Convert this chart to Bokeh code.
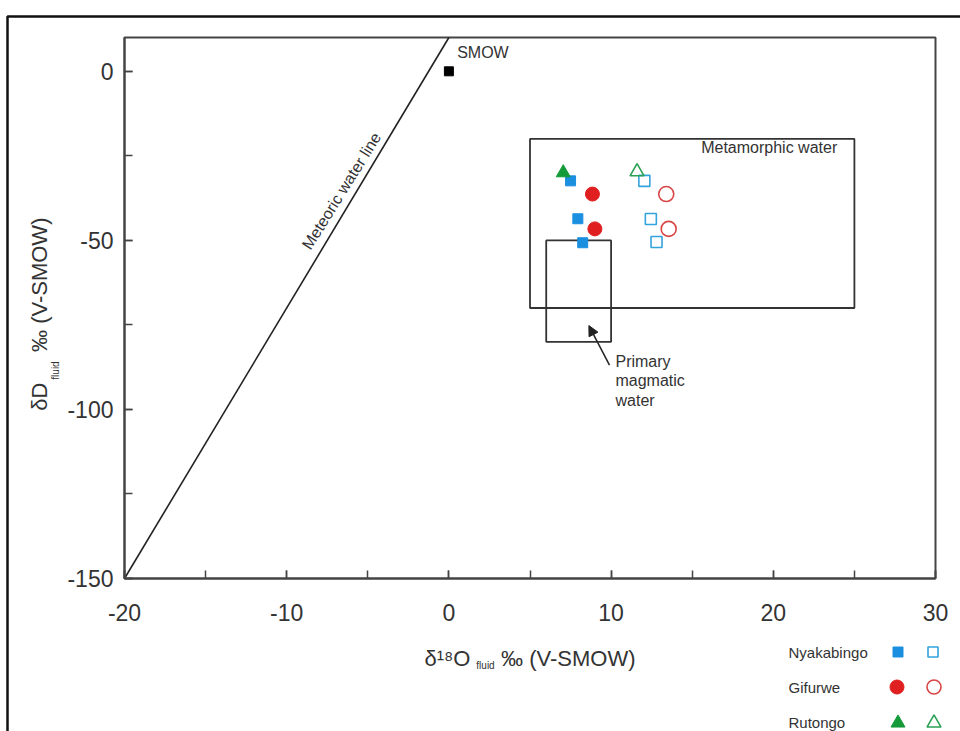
from bokeh.plotting import figure
from bokeh.models import (Label, Legend, LegendItem, BoxAnnotation, PrintfTickFormatter,
                          SingleIntervalTicker, Arrow, NormalHead, Range1d)
from bokeh.embed import file_html
from bokeh.resources import INLINE

FONT = "Liberation Sans"
TXT = "#333333"

# ---------------- data ----------------
x_range = (-20, 30)
y_range = (-150, 10)

nyak_closed_x = [7.5, 7.95, 8.25]
nyak_closed_y = [-32.4, -43.6, -50.7]
nyak_open_x = [12.05, 12.45, 12.8]
nyak_open_y = [-32.4, -43.7, -50.5]

gif_closed_x = [8.85, 9.0]
gif_closed_y = [-36.3, -46.6]
gif_open_x = [13.4, 13.55]
gif_open_y = [-36.3, -46.6]

rut_closed_x = [7.05]
rut_closed_y = [-30.0]
rut_open_x = [11.6]
rut_open_y = [-29.7]

smow_x = [0]
smow_y = [0]

mwl_x = [-20, 0]
mwl_y = [-150, 10]

meta_left, meta_right, meta_bottom, meta_top = [5], [25], [-70], [-20]
mag_left, mag_right, mag_bottom, mag_top = [6], [10], [-80], [-50]

legend_names = ["Nyakabingo", "Gifurwe", "Rutongo"]

# ---------------- layout (pixels) ----------------
W, H = 960, 731
PL, PR, PT, PB = 124, 935, 37, 578     # plot box edges in canvas px
sx = (PR - PL) / (x_range[1] - x_range[0])
sy = (PB - PT) / (y_range[1] - y_range[0])
xr = Range1d(x_range[0] - PL / sx, x_range[1] + (W - PR) / sx)
yr = Range1d(y_range[0] - (H - PB) / sy, y_range[1] + PT / sy)

def dx(px):
    return x_range[0] + (px - PL) / sx

def dy(py):
    return y_range[1] - (py - PT) / sy

p = figure(width=W, height=H, output_backend="svg", toolbar_location=None,
           x_range=xr, y_range=yr, min_border=0)
p.grid.visible = False
p.outline_line_color = None
p.background_fill_color = "white"
p.border_fill_color = "white"

for ax, interval, loc, bnd in ((p.xaxis[0], 10, y_range[0], x_range),
                               (p.yaxis[0], 50, x_range[0], y_range)):
    ax.fixed_location = loc
    ax.bounds = bnd
    ax.ticker = SingleIntervalTicker(interval=interval, num_minor_ticks=2)
    ax.formatter = PrintfTickFormatter(format="%d")
    ax.axis_line_color = "#444444"
    ax.axis_line_width = 2
    ax.major_tick_in = 8
    ax.major_tick_out = 0
    ax.minor_tick_in = 8
    ax.minor_tick_out = 0
    ax.major_tick_line_color = "#444444"
    ax.minor_tick_line_color = "#444444"
    ax.major_tick_line_width = 1.5
    ax.minor_tick_line_width = 1.5
    ax.major_label_text_font = FONT
    ax.major_label_text_font_size = "23px"
    ax.major_label_text_color = TXT
    ax.axis_label_text_font = FONT
    ax.axis_label_text_font_size = "22px"
    ax.axis_label_text_font_style = "normal"
    ax.axis_label_text_color = TXT

NB = "\u00a0"
p.xaxis.major_label_standoff = 25
p.yaxis.major_label_standoff = 11
p.xaxis.axis_label = "δ¹⁸O" + NB * 5 + "‰ (V-SMOW)"
p.yaxis.axis_label = "δD" + NB * 5 + "‰ (V-SMOW)" + NB * 2
p.xaxis.axis_label_standoff = 22
p.yaxis.axis_label_standoff = 12

# plot box
p.quad(left=[x_range[0]], right=[x_range[1]], bottom=[y_range[0]], top=[y_range[1]],
       fill_color=None, line_color="#444444", line_width=2)

# subscripts "fluid"
p.add_layout(Label(x=dx(485), y=dy(665), text="fluid", text_font=FONT, text_font_size="10px",
                   text_color=TXT, text_align="center", text_baseline="middle"))
p.add_layout(Label(x=dx(55), y=dy(370), text="fluid", text_font=FONT, text_font_size="10px",
                   text_color=TXT, text_align="center", text_baseline="middle", angle=90,
                   angle_units="deg"))

# meteoric water line
p.line(mwl_x, mwl_y, line_color="#222222", line_width=1.6)
p.add_layout(Label(x=-6.62, y=-35.4, text="Meteoric water line", text_font=FONT,
                   text_font_size="16px", text_color=TXT, angle=58, angle_units="deg",
                   text_align="center", text_baseline="middle"))

# boxes
p.quad(left=meta_left, right=meta_right, bottom=meta_bottom, top=meta_top,
       fill_color=None, line_color="#333333", line_width=1.8)
p.quad(left=mag_left, right=mag_right, bottom=mag_bottom, top=mag_top,
       fill_color=None, line_color="#333333", line_width=1.8)
p.add_layout(Label(x=23.94, y=-22.5, text="Metamorphic water", text_font=FONT,
                   text_font_size="16px", text_color=TXT, text_align="right",
                   text_baseline="middle"))
p.add_layout(Label(x=10.27, y=-83.2, text="Primary\nmagmatic\nwater", text_font=FONT,
                   text_font_size="16px", text_color=TXT, text_align="left",
                   text_baseline="top", text_line_height=1.15))
p.add_layout(Arrow(end=NormalHead(size=10, fill_color="#222222", line_color="#222222"),
                   x_start=9.9, y_start=-86.9, x_end=8.63, y_end=-75.2,
                   line_color="#222222", line_width=1.5))

# SMOW
p.scatter(smow_x, smow_y, marker="square", size=9, fill_color="black", line_color="black")
p.add_layout(Label(x=0.51, y=5.7, text="SMOW", text_font=FONT, text_font_size="16px",
                   text_color=TXT, text_align="left", text_baseline="middle"))

BLUE, RED, GREEN = "#1a8fe0", "#e02020", "#159a3a"
BLUE_O, RED_O, GREEN_O = "#33a3dd", "#d94545", "#2aa055"

r_nc = p.scatter(nyak_closed_x, nyak_closed_y, marker="square", size=10,
                 fill_color=BLUE, line_color=BLUE)
r_no = p.scatter(nyak_open_x, nyak_open_y, marker="square", size=11,
                 fill_color=None, line_color=BLUE_O, line_width=1.6)
r_gc = p.scatter(gif_closed_x, gif_closed_y, marker="circle", size=14,
                 fill_color=RED, line_color=RED)
r_go = p.scatter(gif_open_x, gif_open_y, marker="circle", size=15,
                 fill_color=None, line_color=RED_O, line_width=1.6)
r_rc = p.scatter(rut_closed_x, rut_closed_y, marker="triangle", size=14,
                 fill_color=GREEN, line_color=GREEN)
r_ro = p.scatter(rut_open_x, rut_open_y, marker="triangle", size=14,
                 fill_color=None, line_color=GREEN_O, line_width=1.6)

# legend (names left, filled and open symbol to the right)
row_py = [651.7, 686.7, 721.5]
for nm, py in zip(legend_names, row_py):
    p.add_layout(Label(x=dx(788), y=dy(py), text=nm, text_font=FONT, text_font_size="15px",
                       text_color=TXT, text_align="left", text_baseline="middle"))

sym = [(r_nc, 10, 897, row_py[0]), (r_no, 10, 932, row_py[0]),
       (r_gc, 14, 896.7, row_py[1]), (r_go, 14, 933, row_py[1]),
       (r_rc, 14, 897, row_py[2] + 1.3), (r_ro, 14, 933, row_py[2] + 1.3)]
for rend, sz, cx, cy in sym:
    G = sz / 0.4
    lg = Legend(items=[LegendItem(label="", renderers=[rend])],
                location=(cx - G / 2, H - (cy + G / 2)),
                glyph_width=int(round(G)), glyph_height=int(round(G)),
                label_width=0, label_height=0, label_standoff=0,
                label_text_font_size="1px", padding=0, margin=0, spacing=0,
                border_line_color=None, background_fill_alpha=0)
    p.add_layout(lg)

# outer figure border (top and left)
p.add_layout(BoxAnnotation(left=7, right=3000, top=16, bottom=3000,
                           left_units="canvas", right_units="canvas",
                           top_units="canvas", bottom_units="canvas",
                           fill_alpha=0, line_color="#111111", line_alpha=1.0,
                           line_width=2.5))

open("out.html", "w").write(file_html(p, INLINE))
